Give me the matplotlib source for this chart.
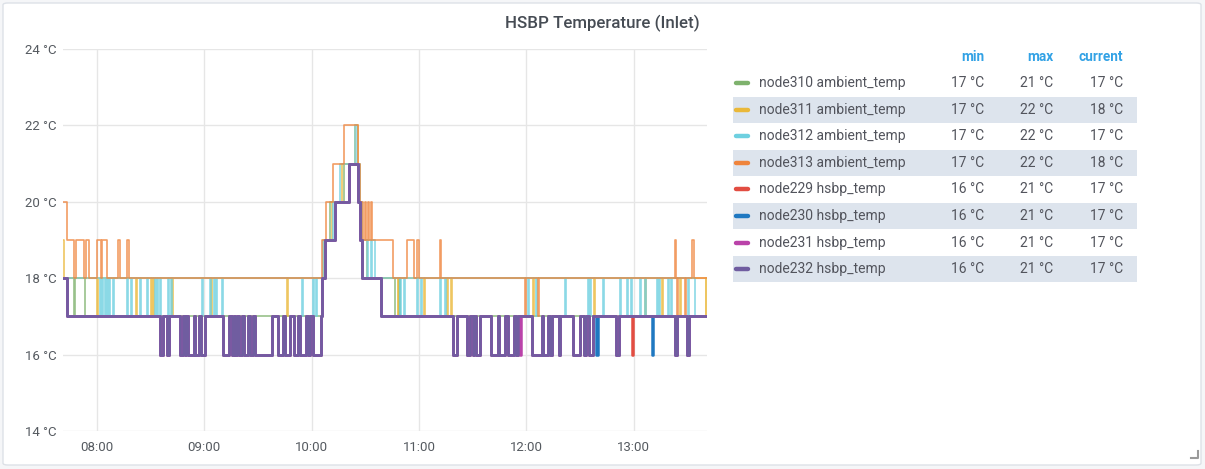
import matplotlib
matplotlib.use("Agg")
import matplotlib.pyplot as plt
import matplotlib.dates as mdates
from matplotlib.patches import FancyBboxPatch, Rectangle
from matplotlib.lines import Line2D
import pandas as pd

# ---------------- data ----------------
DAY = "2021-01-01 "
t_start, t_end = "07:41:00", "13:41:00"

series_names = ["node310 ambient_temp", "node311 ambient_temp", "node312 ambient_temp",
                "node313 ambient_temp", "node229 hsbp_temp", "node230 hsbp_temp",
                "node231 hsbp_temp", "node232 hsbp_temp"]
series_colors = ["#7EB26D", "#EAB839", "#6ED0E0", "#EF843C",
                 "#E24D42", "#1F78C1", "#BA43A9", "#705DA0"]

# step change points (time, °C)
node310 = [("07:41:00", 18), ("07:47:00", 17), ("07:47:40", 18), ("07:53:30", 17),
           ("10:06:00", 18), ("10:08:00", 19), ("10:10:00", 20), ("10:18:00", 21),
           ("10:26:00", 20), ("10:27:00", 19), ("10:28:00", 18), ("10:46:30", 17),
           ("10:49:00", 18), ("10:49:30", 17)]

node311_base = [("07:41:00", 19), ("07:41:40", 18), ("10:07:00", 19), ("10:11:30", 20),
                ("10:17:00", 21), ("10:24:30", 22), ("10:26:00", 21), ("10:27:00", 20),
                ("10:28:00", 19), ("10:31:00", 18)]
node311_dips = [("08:00:00", "08:00:30"), ("08:22:00", "08:22:30"), ("08:30:00", "08:30:30"),
                ("08:31:10", "08:31:40"), ("08:42:00", "08:42:30"), ("09:04:00", "09:04:30"),
                ("09:46:00", "09:46:30"), ("10:48:00", "10:48:30"), ("11:03:00", "11:03:30"),
                ("11:15:40", "11:16:10"), ("11:18:00", "11:18:30"), ("12:04:00", "12:04:30"),
                ("12:38:00", "12:38:30"), ("13:06:30", "13:07:00"), ("13:16:00", "13:16:30"),
                ("13:26:00", "13:26:30"), ("13:40:10", "13:40:40")]

node312_base = [("07:41:00", 18), ("10:06:30", 19), ("10:12:00", 20), ("10:16:00", 21),
                ("10:24:00", 22), ("10:25:30", 21), ("10:27:00", 20), ("10:28:00", 19),
                ("10:31:00", 18), ("10:31:30", 19), ("10:33:00", 18), ("10:33:30", 19),
                ("10:35:30", 18), ("13:34:24", 17)]
node312_dips = [("08:01:40", "08:02:10"), ("08:02:50", "08:03:20"), ("08:04:30", "08:05:00"),
                ("08:05:40", "08:06:10"), ("08:06:50", "08:07:20"), ("08:09:00", "08:09:30"),
                ("08:16:50", "08:17:20"), ("08:19:00", "08:19:30"), ("08:24:00", "08:24:30"),
                ("08:28:00", "08:28:30"), ("08:32:30", "08:33:00"), ("08:33:40", "08:34:10"),
                ("08:35:20", "08:35:50"), ("08:39:40", "08:40:10"), ("08:41:20", "08:41:50"),
                ("08:58:40", "08:59:10"), ("09:03:10", "09:03:40"), ("09:05:30", "09:06:00"),
                ("09:06:40", "09:07:10"), ("09:09:50", "09:10:20"), ("09:54:40", "09:55:10"),
                ("10:00:50", "10:01:20"), ("10:02:30", "10:03:00"), ("10:49:30", "10:50:00"),
                ("10:51:40", "10:52:10"), ("10:59:00", "10:59:30"), ("11:01:10", "11:01:40"),
                ("11:11:50", "11:12:20"), ("11:14:40", "11:15:10"), ("12:01:00", "12:01:30"),
                ("12:05:30", "12:06:00"), ("12:21:40", "12:22:10"), ("12:34:40", "12:35:10"),
                ("12:35:50", "12:36:20"), ("12:43:00", "12:43:30"), ("12:52:30", "12:53:00"),
                ("12:56:30", "12:57:00"), ("12:58:30", "12:59:00"), ("13:03:40", "13:04:10"),
                ("13:06:30", "13:07:00"), ("13:13:10", "13:13:40"), ("13:14:20", "13:14:50"),
                ("13:19:20", "13:19:50"), ("13:21:00", "13:21:30"), ("13:30:30", "13:31:00")]

node313 = [("07:41:00", 20), ("07:43:30", 19), ("07:47:00", 18), ("07:48:00", 19),
           ("07:53:00", 18), ("07:54:00", 19), ("07:55:30", 18), ("08:00:00", 19),
           ("08:02:00", 18), ("08:03:00", 19), ("08:05:30", 18), ("08:12:00", 19),
           ("08:13:00", 18), ("08:17:00", 19), ("08:17:40", 18), ("10:06:00", 19),
           ("10:08:00", 20), ("10:12:00", 21), ("10:18:00", 22), ("10:26:00", 21),
           ("10:27:00", 20), ("10:28:30", 19), ("10:30:00", 20), ("10:30:20", 19),
           ("10:31:40", 20), ("10:32:00", 19), ("10:33:20", 20), ("10:33:40", 19),
           ("10:45:30", 18), ("10:53:30", 19), ("10:57:00", 18), ("10:59:00", 19),
           ("11:00:00", 18), ("11:12:00", 19), ("11:12:30", 18), ("11:59:20", 17),
           ("11:59:50", 18), ("12:06:20", 17), ("12:06:50", 18), ("13:23:00", 19),
           ("13:23:30", 18), ("13:24:30", 17), ("13:25:00", 18), ("13:28:30", 17),
           ("13:29:00", 18), ("13:32:40", 19), ("13:34:00", 18)]

hsbp_profile = [("07:41:00", 18), ("07:43:00", 17), ("10:06:00", 18), ("10:07:30", 19),
                ("10:13:00", 20), ("10:21:00", 21), ("10:26:00", 20), ("10:27:00", 19),
                ("10:28:00", 18), ("10:39:00", 17)]
hsbp_dips = [("08:35:00", "08:37:00"), ("08:39:00", "08:40:00"), ("08:46:30", "08:48:00"),
             ("08:49:00", "08:50:00"), ("08:51:00", "08:54:00"), ("08:55:00", "08:57:00"),
             ("08:58:00", "09:00:30"), ("09:10:30", "09:14:00"), ("09:15:30", "09:16:30"),
             ("09:17:00", "09:18:00"), ("09:19:30", "09:21:00"), ("09:22:00", "09:24:30"),
             ("09:25:30", "09:27:00"), ("09:28:30", "09:38:00"), ("09:41:00", "09:44:00"),
             ("09:45:00", "09:48:00"), ("09:50:00", "09:52:30"), ("09:53:30", "09:57:00"),
             ("09:58:00", "09:59:00"), ("10:01:00", "10:05:00"),
             ("11:19:00", "11:21:00"), ("11:27:00", "11:28:30"), ("11:30:00", "11:31:00"),
             ("11:32:00", "11:34:00"), ("11:40:00", "11:44:00"), ("11:45:00", "11:48:00"),
             ("11:50:00", "11:53:00"), ("11:54:00", "11:55:30"), ("12:03:00", "12:09:00"),
             ("12:09:30", "12:12:00"), ("12:13:00", "12:14:30"), ("12:18:00", "12:19:00"),
             ("12:26:00", "12:30:00"), ("12:32:00", "12:33:30"), ("12:35:00", "12:37:00"),
             ("12:50:00", "12:52:00"), ("13:23:00", "13:24:30"), ("13:30:00", "13:31:00")]
node229_extra_dips = [("12:59:00", "12:59:50")]
node230_extra_dips = [("12:39:00", "12:39:50"), ("13:10:00", "13:10:50")]
node231_extra_dips = [("11:56:20", "11:57:00")]
node232_extra_dips = []

y_ticks = [14, 16, 18, 20, 22, 24]
legend_headers = ["min", "max", "current"]


# ---------------- helpers ----------------
def ts(s):
    return pd.Timestamp(DAY + s)


def build(changes, dips=(), dip_value=16):
    ch = [(ts(t), v) for t, v in changes]
    dp = [(ts(a), ts(b)) for a, b in dips]
    times = sorted(set([c[0] for c in ch] + [d[0] for d in dp] + [d[1] for d in dp] + [ts(t_end)]))

    def base_at(t):
        val = ch[0][1]
        for tc, v in ch:
            if tc <= t:
                val = v
        return val

    vals = []
    for t in times:
        if any(a <= t < b for a, b in dp):
            vals.append(dip_value)
        else:
            vals.append(base_at(t))
    return times, vals


data = [
    build(node310),
    build(node311_base, node311_dips, dip_value=17),
    build(node312_base, node312_dips, dip_value=17),
    build(node313),
    build(hsbp_profile, hsbp_dips + node229_extra_dips),
    build(hsbp_profile, hsbp_dips + node230_extra_dips),
    build(hsbp_profile, hsbp_dips + node231_extra_dips),
    build(hsbp_profile, hsbp_dips + node232_extra_dips),
]

# ---------------- figure ----------------
W, H = 1205, 469
fig = plt.figure(figsize=(W / 100, H / 100), dpi=100)
fig.patch.set_facecolor("#f5f6f8")


def fx(x):
    return x / W


def fy(y):
    return 1 - y / H


panel = FancyBboxPatch((fx(3), fy(465)), fx(1198), 462 / H,
                       boxstyle="round,pad=0,rounding_size=0.004",
                       transform=fig.transFigure, facecolor="white",
                       edgecolor="#dde1e7", linewidth=1.0, zorder=0)
fig.add_artist(panel)

FONT = "Roboto"
TXT = "#52545c"

fig.text(fx(602), fy(23), "HSBP Temperature (Inlet)", ha="center", va="center",
         fontsize=12.2, family=FONT, color="#464c54", fontweight="medium")

ax = fig.add_axes([fx(63), fy(431), fx(707 - 63), (431 - 49) / H])
ax.set_facecolor("none")
for sp in ax.spines.values():
    sp.set_visible(False)

for i, (times, vals) in enumerate(data):
    hs = i >= 4
    ax.step(times, vals, where="post", color=series_colors[i],
            lw=1.8 if hs else 1.2, alpha=1.0 if hs else 0.8, zorder=3 + i)

ax.set_ylim(14, 24)
ax.set_yticks(y_ticks)
ax.set_yticklabels([f"{v} °C" for v in y_ticks])
ax.set_xlim(ts(t_start), ts(t_end))
ax.xaxis.set_major_locator(mdates.HourLocator())
ax.xaxis.set_major_formatter(mdates.DateFormatter("%H:%M"))
ax.grid(True, color="#e6e6e6", lw=1.0, zorder=0)
ax.set_axisbelow(True)
ax.tick_params(length=0, labelsize=9.5, colors="#555a60")
ax.tick_params(axis="y", pad=4.5)
ax.tick_params(axis="x", pad=7)
for lab in ax.get_xticklabels() + ax.get_yticklabels():
    lab.set_family(FONT)

# ---------------- legend table ----------------
hdr_x = [984, 1053, 1123]
for hx, h in zip(hdr_x, legend_headers):
    fig.text(fx(hx), fy(57), h, ha="right", va="center", fontsize=9.8, family=FONT,
             color="#33a2e5", fontweight="bold")

row_y0, row_dy = 83, 26.6
for i, name in enumerate(series_names):
    y = row_y0 + i * row_dy
    if i % 2 == 1:
        fig.add_artist(Rectangle((fx(733), fy(y + 13)), fx(1137 - 733), 26 / H,
                                 transform=fig.transFigure, facecolor="#dde4ed",
                                 edgecolor="none", zorder=1))
    fig.add_artist(Line2D([fx(736), fx(748)], [fy(y), fy(y)], transform=fig.transFigure,
                          color=series_colors[i], lw=3.2, solid_capstyle="round", zorder=2))
    fig.text(fx(759), fy(y), name, ha="left", va="center", fontsize=10, family=FONT,
             color=TXT, zorder=3)
    vals = data[i][1]
    stats = [min(vals), max(vals), vals[-1]]
    for hx, s in zip(hdr_x, stats):
        fig.text(fx(hx), fy(y), f"{s} °C", ha="right", va="center", fontsize=10,
                 family=FONT, color=TXT, zorder=3)

# resize grip
fig.add_artist(Line2D([fx(1191), fx(1198), fx(1198)], [fy(458), fy(458), fy(451)],
                      transform=fig.transFigure, color="#9a9a9a", lw=1.5))

fig.savefig("out.png", dpi=100, facecolor=fig.get_facecolor())
